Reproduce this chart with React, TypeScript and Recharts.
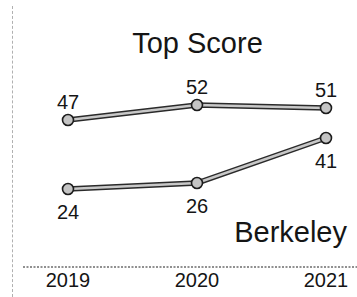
import { LineChart, Line, XAxis, YAxis, LabelList } from "recharts";

const years = ["2019", "2020", "2021"];
const topScore = [47, 52, 51];
const berkeley = [24, 26, 41];

const data = years.map((year, i) => ({ year, top: topScore[i], berk: berkeley[i] }));

const font = "'Liberation Sans', Arial, sans-serif";
const ink = "#151515";

function Dot(props: any) {
  const { cx, cy } = props;
  if (cx == null || cy == null) return null;
  return <circle cx={cx} cy={cy} r={5.5} fill="#c4c4c4" stroke="#1c1c1c" strokeWidth={1.6} />;
}

export default function App() {
  return (
    <div style={{ position: "absolute", left: 0, top: 0, width: 357, height: 297, background: "#fff" }}>
      <div style={{ position: "absolute", left: 12, top: 6, height: 291, borderLeft: "1px dashed #b0b0b0" }} />
      <LineChart width={357} height={297} data={data} margin={{ top: 36, right: 0, left: 23, bottom: 0 }}>
        <XAxis
          dataKey="year"
          height={30}
          tickLine={false}
          tickMargin={0}
          padding={{ left: 45, right: 31 }}
          axisLine={{ stroke: "#222", strokeDasharray: "2 1.5", strokeWidth: 1.2 }}
          tick={{ fill: ink, fontSize: 20, fontFamily: font }}
        />
        <YAxis hide domain={[-2, 75]} />
        <Line dataKey="top" stroke="#2a2a2a" strokeWidth={5.5} dot={false} isAnimationActive={false} />
        <Line dataKey="top" stroke="#c8c8c8" strokeWidth={2.6} dot={<Dot />} isAnimationActive={false}>
          <LabelList dataKey="top" position="top" offset={11} fill={ink} fontSize={20} fontFamily={font} />
        </Line>
        <Line dataKey="berk" stroke="#2a2a2a" strokeWidth={5.5} dot={false} isAnimationActive={false} />
        <Line dataKey="berk" stroke="#c8c8c8" strokeWidth={2.6} dot={<Dot />} isAnimationActive={false}>
          <LabelList dataKey="berk" position="bottom" offset={16} fill={ink} fontSize={20} fontFamily={font} />
        </Line>
        <text x={197.5} y={53} textAnchor="middle" fill={ink} fontSize={29} fontFamily={font}>
          Top Score
        </text>
        <text x={347} y={242} textAnchor="end" fill={ink} fontSize={29} fontFamily={font}>
          Berkeley
        </text>
      </LineChart>
    </div>
  );
}
